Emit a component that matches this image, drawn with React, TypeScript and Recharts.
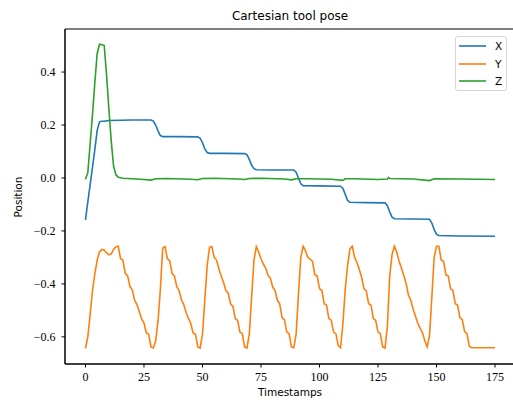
import React from "react";
import { LineChart, Line, XAxis, YAxis, ReferenceArea } from "recharts";

// timestamps 0..175, one sample each for Y
const timestamps = Array.from({ length: 176 }, (_, i) => i);

const yPose = [
  -0.644, -0.6, -0.515, -0.425, -0.362, -0.31, -0.279, -0.27, -0.272, -0.283,
  -0.29, -0.287, -0.27, -0.26, -0.258, -0.305, -0.31, -0.36, -0.37, -0.41,
  -0.422, -0.462, -0.478, -0.505, -0.532, -0.548, -0.585, -0.59, -0.638, -0.642,
  -0.615, -0.54, -0.42, -0.265, -0.259, -0.305, -0.312, -0.36, -0.37, -0.41,
  -0.425, -0.46, -0.478, -0.508, -0.53, -0.55, -0.585, -0.59, -0.638, -0.642,
  -0.59, -0.46, -0.33, -0.262, -0.259, -0.3, -0.31, -0.343, -0.37, -0.395,
  -0.425, -0.435, -0.475, -0.485, -0.531, -0.538, -0.582, -0.588, -0.638, -0.642,
  -0.59, -0.45, -0.31, -0.259, -0.28, -0.305, -0.325, -0.34, -0.368, -0.378,
  -0.412, -0.425, -0.462, -0.475, -0.527, -0.535, -0.581, -0.588, -0.638, -0.641,
  -0.59, -0.44, -0.3, -0.258, -0.275, -0.3, -0.306, -0.315, -0.365, -0.37,
  -0.418, -0.425, -0.475, -0.48, -0.531, -0.537, -0.582, -0.588, -0.632, -0.641,
  -0.55, -0.42, -0.33, -0.268, -0.258, -0.3, -0.32, -0.345, -0.375, -0.418,
  -0.427, -0.475, -0.48, -0.531, -0.538, -0.582, -0.588, -0.638, -0.642, -0.56,
  -0.37, -0.29, -0.258, -0.28, -0.315, -0.34, -0.368, -0.398, -0.442, -0.462,
  -0.495, -0.522, -0.548, -0.568, -0.585, -0.615, -0.638, -0.595, -0.45, -0.3,
  -0.258, -0.258, -0.31, -0.315, -0.365, -0.37, -0.418, -0.425, -0.475, -0.48,
  -0.527, -0.535, -0.58, -0.588, -0.635, -0.641, -0.641, -0.641, -0.641, -0.641,
  -0.641, -0.641, -0.641, -0.641, -0.641, -0.641,
];

// X and Z read at their corners: [timestamp, value]
const xPose: [number, number][] = [
  [0, -0.158], [1, -0.09], [2, -0.025], [3, 0.04], [4, 0.108], [5, 0.18],
  [6, 0.212], [7, 0.214], [8, 0.214], [10, 0.217], [15, 0.218], [20, 0.219],
  [28, 0.219], [29, 0.215], [30, 0.2], [31, 0.178], [32, 0.16], [33, 0.156],
  [40, 0.156], [48, 0.155], [49, 0.15], [50, 0.133], [51, 0.11], [52, 0.096],
  [53, 0.093], [60, 0.093], [68, 0.092], [69, 0.088], [70, 0.07], [71, 0.048],
  [72, 0.035], [73, 0.031], [80, 0.03], [89, 0.03], [90, 0.022], [91, 0.0],
  [92, -0.022], [93, -0.029], [100, -0.03], [109, -0.031], [110, -0.04],
  [111, -0.062], [112, -0.085], [113, -0.092], [120, -0.093], [128, -0.094],
  [129, -0.105], [130, -0.128], [131, -0.148], [132, -0.154], [140, -0.155],
  [147, -0.156], [148, -0.17], [149, -0.195], [150, -0.213], [151, -0.217],
  [160, -0.219], [175, -0.22],
];

const zPose: [number, number][] = [
  [0, -0.005], [1, 0.02], [2, 0.13], [3, 0.24], [4, 0.36], [5, 0.47],
  [6, 0.505], [7, 0.503], [8, 0.5], [9, 0.39], [10, 0.26], [11, 0.14],
  [12, 0.045], [13, 0.012], [14, 0.003], [16, -0.001], [20, -0.003],
  [25, -0.006], [28, -0.008], [30, -0.003], [35, -0.002], [45, -0.005],
  [48, -0.007], [50, -0.002], [55, -0.001], [65, -0.004], [68, -0.006],
  [70, -0.002], [75, -0.001], [85, -0.004], [88, -0.007], [90, -0.003],
  [95, -0.003], [105, -0.005], [110, -0.009], [111, -0.003], [115, -0.003],
  [125, -0.006], [129, -0.004], [129.5, 0.002], [130, -0.002], [140, -0.004],
  [147, -0.01], [149, -0.003], [160, -0.004], [175, -0.006],
];

const xTicks = [0, 25, 50, 75, 100, 125, 150, 175];
const yTicks = [-0.6, -0.4, -0.2, 0.0, 0.2, 0.4];

const series = [
  { name: "X", color: "#1f77b4" },
  { name: "Y", color: "#ff7f0e" },
  { name: "Z", color: "#2ca02c" },
];

const yData = timestamps.map((t) => ({ t, v: yPose[t] }));
const xData = xPose.map(([t, v]) => ({ t, v }));
const zData = zPose.map(([t, v]) => ({ t, v }));

const xDomain = [-8.75, 183.75];
const yDomain = [-0.7025, 0.5625];

const fmtY = (v: number) =>
  v < 0 ? "\u2212" + Math.abs(v).toFixed(1) : v.toFixed(1);

const tickFont = { fontFamily: "Liberation Serif", fontSize: 12, fill: "#000" };
const sans = "DejaVu Sans";

export default function App() {
  return (
    <div
      style={{
        position: "absolute",
        left: 0,
        top: 0,
        width: 513,
        height: 402,
        overflow: "hidden",
        background: "#fff",
      }}
    >
      <LineChart
        width={530}
        height={402}
        margin={{ top: 29, right: 14.5, left: 0, bottom: 0 }}
      >
        <XAxis
          dataKey="t"
          type="number"
          domain={xDomain}
          ticks={xTicks}
          allowDataOverflow
          height={38}
          tickSize={3.5}
          tickMargin={5}
          stroke="#000"
          tick={tickFont}
          tickLine={{ stroke: "#000" }}
          axisLine={{ stroke: "#000" }}
        />
        <YAxis
          type="number"
          domain={yDomain}
          ticks={yTicks}
          allowDataOverflow
          width={65}
          tickSize={3.5}
          tickMargin={6}
          tickFormatter={fmtY}
          stroke="#000"
          tick={tickFont}
          tickLine={{ stroke: "#000" }}
          axisLine={{ stroke: "#000" }}
        />
        <ReferenceArea
          x1={xDomain[0]}
          x2={xDomain[1]}
          y1={yDomain[0]}
          y2={yDomain[1]}
          fill="none"
          stroke="#000"
          strokeWidth={1}
          ifOverflow="visible"
        />
        {[xData, yData, zData].map((d, i) => (
          <Line
            key={series[i].name}
            data={d}
            dataKey="v"
            name={series[i].name}
            type="linear"
            stroke={series[i].color}
            strokeWidth={1.6}
            dot={false}
            isAnimationActive={false}
          />
        ))}
      </LineChart>

      <div
        style={{
          position: "absolute",
          left: 0,
          width: 580,
          top: 9,
          textAlign: "center",
          fontFamily: sans,
          fontSize: 12,
          lineHeight: "14px",
        }}
      >
        Cartesian tool pose
      </div>
      <div
        style={{
          position: "absolute",
          left: 0,
          width: 580,
          top: 386,
          textAlign: "center",
          fontFamily: sans,
          fontSize: 10.5,
          lineHeight: "12px",
        }}
      >
        Timestamps
      </div>
      <div
        style={{
          position: "absolute",
          left: 18,
          top: 197,
          transform: "translate(-50%, -50%) rotate(-90deg)",
          fontFamily: sans,
          fontSize: 10.5,
          lineHeight: "12px",
          whiteSpace: "nowrap",
        }}
      >
        Position
      </div>

      <div
        style={{
          position: "absolute",
          left: 455,
          top: 36,
          width: 52,
          height: 55,
          boxSizing: "border-box",
          border: "1px solid #d6d6d6",
          borderRadius: 3,
          background: "rgba(255,255,255,0.8)",
        }}
      >
        {series.map((s, i) => (
          <div
            key={s.name}
            style={{
              position: "absolute",
              left: 3,
              top: 3 + i * 17.5,
              height: 12,
              display: "flex",
              alignItems: "center",
              fontFamily: sans,
              fontSize: 10.5,
            }}
          >
            <svg width={27} height={4} style={{ marginRight: 9 }}>
              <line x1={0} y1={2} x2={27} y2={2} stroke={s.color} strokeWidth={1.6} />
            </svg>
            {s.name}
          </div>
        ))}
      </div>
    </div>
  );
}
